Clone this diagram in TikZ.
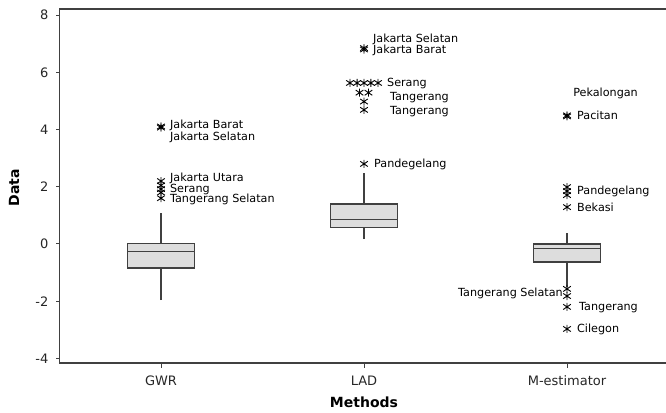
\documentclass[tikz,border=0pt]{standalone}
\usepackage{fontspec}
\setmainfont{DejaVu Sans}
\usetikzlibrary{positioning}
\definecolor{axisgray}{HTML}{404040}
\definecolor{boxfill}{HTML}{DDDDDD}
\tikzset{
  ast/.pic={\draw[line width=0.9pt] (0,-4pt) -- (0,4pt) (-3.8pt,-2.6pt) -- (3.8pt,2.6pt) (-3.8pt,2.6pt) -- (3.8pt,-2.6pt);}
}
% x, lower whisker, q1, median, q3, upper whisker
\newcommand{\bxplot}[6]{%
  \draw[whisk] (#1,#2) -- (#1,#3) (#1,#5) -- (#1,#6);
  \draw[bx] (#1-0.165,#3) rectangle (#1+0.165,#5);
  \draw[bx] (#1-0.165,#4) -- (#1+0.165,#4);
}

\begin{document}
\begin{tikzpicture}[x=1pt,y=1pt,
  lbl/.style={anchor=west, inner sep=0pt, font=\fontsize{11.2}{12}\selectfont, text height=8pt, text depth=2pt},
  ticklbl/.style={inner sep=0pt, font=\fontsize{13}{14}\selectfont, text=black!85},
  axtitle/.style={inner sep=0pt, font=\fontsize{14}{15}\selectfont\bfseries},
  whisk/.style={draw=axisgray, line width=1.1pt},
  bx/.style={draw=axisgray, line width=1.2pt, fill=boxfill},
]
\useasboundingbox (0,0) rectangle (666,412);
\begin{scope}[x=203pt, y=28.6pt, shift={(-42pt,168pt)}]
  % axes
  \draw[axisgray, line width=1.4pt] (3.5,8.22) -- (0.5,8.22) -- (0.5,-4.16) -- (3.5,-4.16);
  \foreach \v in {-4,-2,...,8} {
    \draw[axisgray, line width=1pt] (0.5,\v) -- ++(-4pt,0);
    \node[ticklbl, anchor=east] (y\v) at ([xshift=-11pt]0.5,\v) {\v};
  }
  \foreach \k/\m in {1/GWR,2/LAD,3/M-estimator} {
    \draw[axisgray, line width=1pt] (\k,-4.16) -- ++(0,-5pt);
    \node[ticklbl] (m\k) at (\k,-4.79) {\m};
  }
  \node[axtitle] (xtitle) at (2,-5.52) {Methods};
  \node[axtitle, rotate=90] (ytitle) at (0.276,1.96) {Data};

  % boxes
  \bxplot{1}{-1.96}{-0.84}{-0.25}{0.03}{1.08}
  \bxplot{2}{0.17}{0.59}{0.87}{1.40}{2.48}
  \bxplot{3}{-1.50}{-0.63}{-0.17}{0.0}{0.38}

  % GWR outliers
  \foreach \v in {4.07,4.11,2.2,2.05,1.92,1.8,1.6} \pic at (1,\v) {ast};
  \node[lbl] (g1) at (1.044,4.13) {Jakarta Barat};
  \node[lbl] (g2) at (1.044,3.72) {Jakarta Selatan};
  \node[lbl] (g3) at (1.044,2.29) {Jakarta Utara};
  \node[lbl] (g4) at (1.044,1.90) {Serang};
  \node[lbl] (g5) at (1.044,1.55) {Tangerang Selatan};

  % LAD outliers
  \foreach \v in {6.80,6.85} \pic at (2,\v) {ast};
  \foreach \d in {-0.069,-0.034,0,0.034,0.069} \pic at (2+\d,5.63) {ast};
  \foreach \d in {-0.022,0.022} \pic at (2+\d,5.29) {ast};
  \pic at (2,4.98) {ast};
  \pic at (2,4.69) {ast};
  \pic at (2,2.80) {ast};
  \node[lbl] (l1) at (2.044,7.15) {Jakarta Selatan};
  \node[lbl] (l2) at (2.044,6.78) {Jakarta Barat};
  \node[lbl] (l3) at (2.113,5.61) {Serang};
  \node[lbl] (l4) at (2.128,5.12) {Tangerang};
  \node[lbl] (l5) at (2.128,4.63) {Tangerang};
  \node[lbl] (l6) at (2.049,2.78) {Pandegelang};

  % M-estimator outliers
  \foreach \v in {4.46,4.50,1.99,1.85,1.71,1.29,-1.57,-1.82,-2.20,-2.97} \pic at (3,\v) {ast};
  \node[lbl] (e1) at (3.03,5.26) {Pekalongan};
  \node[lbl] (e2) at (3.049,4.46) {Pacitan};
  \node[lbl] (e3) at (3.049,1.83) {Pandegelang};
  \node[lbl] (e4) at (3.049,1.24) {Bekasi};
  \node[lbl, anchor=east] (e5) at (2.98,-1.73) {Tangerang Selatan};
  \node[lbl] (e6) at (3.059,-2.22) {Tangerang};
  \node[lbl] (e7) at (3.049,-2.99) {Cilegon};
\end{scope}
\end{tikzpicture}
\end{document}
